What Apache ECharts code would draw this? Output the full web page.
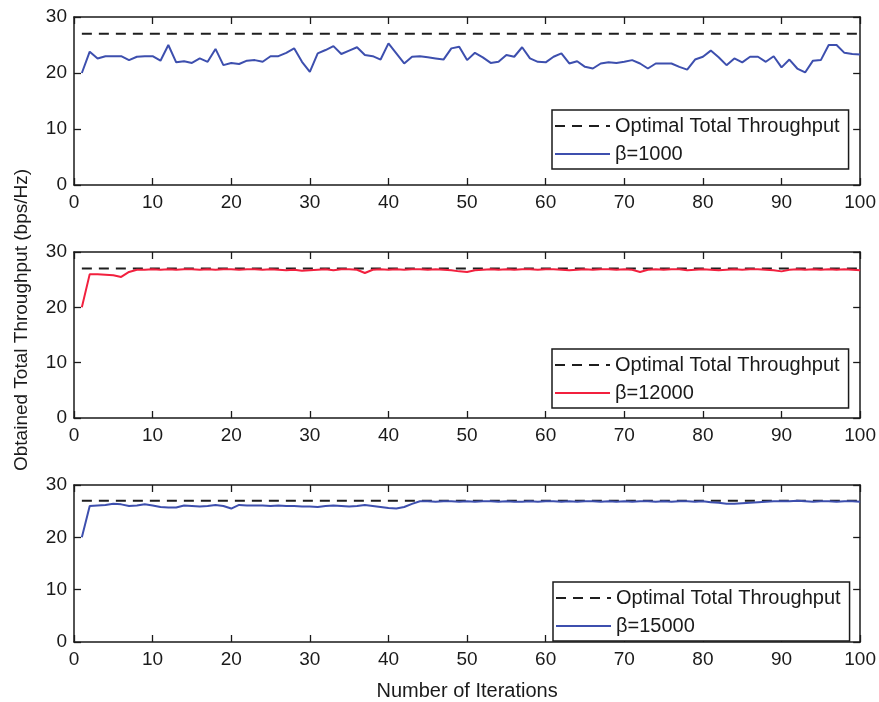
<!DOCTYPE html>
<html>
<head>
<meta charset="utf-8">
<script src="https://cdn.jsdelivr.net/npm/echarts@6/dist/echarts.min.js"></script>
<style>
  html, body { margin: 0; padding: 0; background: #fff; }
  #chart { width: 879px; height: 702px; }
</style>
</head>
<body>
<div id="chart"></div>
<script>
// Obtained total throughput per iteration (iterations 1..100) for three beta settings
const optimalThroughput = 27;

const beta1000 = [
  20.0, 23.8, 22.6, 23.0, 23.0, 23.0, 22.3, 22.9, 23.0, 23.0,
  22.2, 25.0, 21.9, 22.1, 21.8, 22.6, 22.0, 24.3, 21.4, 21.8,
  21.6, 22.2, 22.3, 22.0, 23.0, 23.0, 23.6, 24.4, 22.0, 20.2,
  23.5, 24.1, 24.8, 23.4, 24.0, 24.6, 23.2, 23.0, 22.4, 25.3,
  23.5, 21.7, 22.9, 23.0, 22.8, 22.6, 22.4, 24.4, 24.7, 22.3,
  23.6, 22.8, 21.8, 22.0, 23.2, 22.9, 24.6, 22.6, 22.0, 21.9,
  22.9, 23.5, 21.7, 22.1, 21.1, 20.8, 21.7, 21.9, 21.8, 22.0,
  22.3, 21.7, 20.8, 21.7, 21.7, 21.7, 21.1, 20.6, 22.4, 22.9,
  24.0, 22.8, 21.4, 22.6, 21.9, 22.9, 22.9, 22.0, 23.0, 21.0,
  22.4, 20.8, 20.1, 22.2, 22.3, 25.0, 25.0, 23.6, 23.4, 23.3
];

const beta12000 = [
  20.0, 26.0, 26.0, 25.9, 25.8, 25.5, 26.4, 26.8, 26.8, 26.9,
  26.8, 26.9, 26.8, 26.9, 26.9, 26.8, 26.9, 26.8, 26.9, 26.9,
  26.8, 26.9, 26.9, 26.8, 26.9, 26.8, 26.7, 26.8, 26.6, 26.7,
  26.8, 26.9, 26.7, 26.9, 26.9, 26.8, 26.2, 26.8, 26.9, 26.8,
  26.9, 26.8, 26.9, 26.9, 26.8, 26.9, 26.8, 26.7, 26.5, 26.4,
  26.7, 26.8, 26.9, 26.8, 26.9, 26.8, 26.9, 26.9, 26.8, 26.9,
  26.9, 26.8, 26.7, 26.8, 26.9, 26.8, 26.9, 26.9, 26.8, 26.9,
  26.8, 26.4, 26.8, 26.9, 26.8, 26.9, 26.9, 26.7, 26.8, 26.9,
  26.8, 26.7, 26.8, 26.9, 26.8, 26.9, 26.9, 26.8, 26.7, 26.5,
  26.8, 26.9, 26.8, 26.9, 26.8, 26.9, 26.8, 26.9, 26.8, 26.7
];

const beta15000 = [
  20.0, 26.0, 26.1, 26.2, 26.4, 26.3, 26.0, 26.1, 26.3, 26.1,
  25.8, 25.7, 25.7, 26.1, 26.0, 25.9, 26.0, 26.2, 26.0, 25.5,
  26.2, 26.1, 26.1, 26.1, 26.0, 26.1, 26.0, 26.0, 25.9, 25.9,
  25.8, 26.0, 26.1, 26.0, 25.9, 26.0, 26.2, 26.0, 25.8, 25.6,
  25.5, 25.8, 26.4, 26.9, 26.9, 26.8, 26.9, 26.9, 26.8, 26.9,
  26.8, 26.9, 26.9, 26.8, 26.9, 26.8, 26.8, 26.9, 26.8, 26.9,
  26.9, 26.8, 26.9, 26.8, 26.9, 26.9, 26.8, 26.9, 26.8, 26.9,
  26.8, 26.9, 26.9, 26.8, 26.9, 26.8, 26.9, 26.9, 26.8, 26.9,
  26.7, 26.6, 26.4, 26.4, 26.5, 26.6, 26.7, 26.8, 26.9, 26.9,
  26.9, 27.0, 26.9, 26.8, 26.9, 26.9, 26.8, 26.9, 26.9, 26.8
];

const seriesNames = ['β=1000', 'β=12000', 'β=15000'];
const seriesColors = ['#3d4fae', '#f2203e', '#3d4fae'];
const seriesValues = [beta1000, beta12000, beta15000];
const optimalName = 'Optimal Total Throughput';

const xRange = [0, 100, 10];
const yRange = [0, 30, 10];

const FONT = '"Liberation Sans", Arial, Helvetica, sans-serif';
const INK = '#1a1a1a';

const panelBoxes = [
  { top: 17, height: 168, legendLeft: 552, legendTop: 110 },
  { top: 252, height: 166, legendLeft: 552, legendTop: 349 },
  { top: 485, height: 166, legendLeft: 553, legendTop: 582 }
];

const grid = [], xAxis = [], yAxis = [], series = [], legend = [];

panelBoxes.forEach((p, k) => {
  grid.push({ left: 74, width: 791, top: p.top, height: p.height });

  const tick = { show: true, inside: true, length: 7, lineStyle: { color: INK, width: 1.3 } };
  const line = { show: true, onZero: false, lineStyle: { color: INK, width: 1.5 } };

  // bottom + top x axes (box style, ticks pointing inward)
  xAxis.push({
    type: 'value', gridIndex: k, position: 'bottom',
    min: xRange[0], max: xRange[1], interval: xRange[2],
    axisLine: line, axisTick: tick, splitLine: { show: false },
    axisLabel: { color: INK, fontFamily: FONT, fontSize: 19, margin: 8 },
    name: k === 2 ? 'Number of Iterations' : '',
    nameLocation: 'middle', nameGap: 39,
    nameTextStyle: { color: INK, fontFamily: FONT, fontSize: 20 }
  });
  xAxis.push({
    type: 'value', gridIndex: k, position: 'top',
    min: xRange[0], max: xRange[1], interval: xRange[2],
    axisLine: line, axisTick: tick, splitLine: { show: false },
    axisLabel: { show: false }
  });

  // left + right y axes
  yAxis.push({
    type: 'value', gridIndex: k, position: 'left',
    min: yRange[0], max: yRange[1], interval: yRange[2],
    axisLine: line, axisTick: tick, splitLine: { show: false },
    axisLabel: { color: INK, fontFamily: FONT, fontSize: 19, margin: 7 }
  });
  yAxis.push({
    type: 'value', gridIndex: k, position: 'right',
    min: yRange[0], max: yRange[1], interval: yRange[2],
    axisLine: line, axisTick: tick, splitLine: { show: false },
    axisLabel: { show: false }
  });

  series.push({
    name: optimalName, type: 'line',
    xAxisIndex: 2 * k, yAxisIndex: 2 * k,
    data: [[1, optimalThroughput], [100, optimalThroughput]],
    symbol: 'none', silent: true, animation: false,
    lineStyle: { color: '#1e1e1e', width: 2, type: [10, 7] },
    itemStyle: { color: '#1e1e1e' }
  });
  series.push({
    name: seriesNames[k], type: 'line',
    xAxisIndex: 2 * k, yAxisIndex: 2 * k,
    data: seriesValues[k].map((v, i) => [i + 1, v]),
    symbol: 'none', silent: true, animation: false,
    lineStyle: { color: seriesColors[k], width: 2 },
    itemStyle: { color: seriesColors[k] }
  });

  // legend entries show only the line sample (marker hidden)
  legend.push({
    orient: 'vertical', left: p.legendLeft, top: p.legendTop,
    data: [optimalName, seriesNames[k]],
    selectedMode: false,
    backgroundColor: '#fff', borderColor: INK, borderWidth: 1.5, borderRadius: 0,
    padding: [6, 9, 5, 2],
    itemWidth: 55, itemHeight: 22, itemGap: 8,
    itemStyle: { opacity: 0, borderWidth: 0 },
    lineStyle: { width: 2 },
    textStyle: { color: INK, fontFamily: FONT, fontSize: 20 }
  });
});

const chart = echarts.init(document.getElementById('chart'), null, { renderer: 'canvas' });
chart.setOption({
  backgroundColor: '#fff',
  animation: false,
  grid, xAxis, yAxis, series, legend,
  graphic: [{
    type: 'text', x: 22, y: 320, rotation: Math.PI / 2,
    style: {
      text: 'Obtained Total Throughput (bps/Hz)',
      fill: INK, font: '19px ' + FONT,
      textAlign: 'center', textVerticalAlign: 'middle'
    }
  }]
});
</script>
</body>
</html>
